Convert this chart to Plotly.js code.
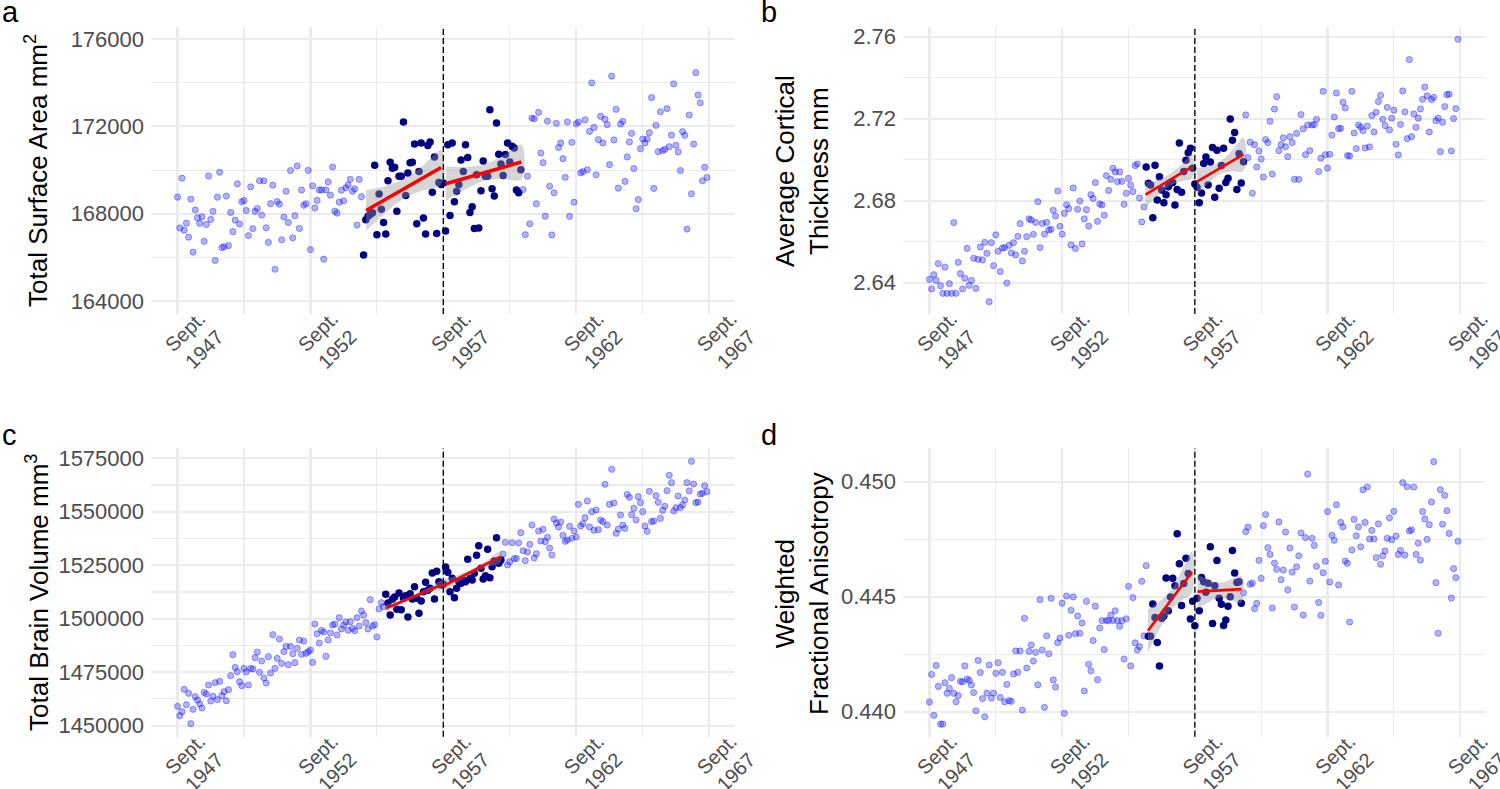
<!DOCTYPE html>
<html>
<head>
<meta charset="utf-8">
<script src="https://cdn.plot.ly/plotly-3.0.1.min.js"></script>
<style>html,body{margin:0;padding:0;background:#fff}#chart{width:1500px;height:789px}</style>
</head>
<body>
<div id="chart"></div>
<script>
// ---------- categories / ticks ----------
const startYear = 1947 + 8/12;   // first birth month: Sept. 1947
const cutoffYear = 1957 + 8/12;  // Sept. 1957
const xTickVals = [1947 + 8/12, 1952 + 8/12, 1957 + 8/12, 1962 + 8/12, 1967 + 8/12];
const xTickText = ['Sept.<br>1947', 'Sept.<br>1952', 'Sept.<br>1957', 'Sept.<br>1962', 'Sept.<br>1967'];
const xMinorVals = [1950 + 2/12, 1955 + 2/12, 1960 + 2/12, 1965 + 2/12];

// ---------- monthly values (Sept 1947 .. Aug 1967) ----------
const surfaceArea = [
168760,167350,169630,167250,167570,166930,168670,166240,168180,167820,
167560,167860,166740,167510,169730,167740,168110,165860,168760,169900,
166450,166490,168810,166540,168060,167180,167710,169370,167530,168550,
168610,168150,167000,169230,167320,168110,168240,169510,167940,169510,
167360,166690,168460,169310,165460,168560,168440,166810,167850,169030,
167600,169980,166900,167910,170190,167330,169090,168390,168460,169990,
166360,169280,168270,168610,169090,169090,165920,169090,169460,168850,
170140,168120,168030,168530,169080,168590,169190,169320,169580,169030,
169140,167480,169570,168780,
166110,167730,167880,167970,168050,170220,167040,168900,168210,167600,
167070,169510,170360,170080,170130,168110,169720,169720,172200,168840,
169860,170330,170360,171190,167540,169930,171240,167800,167070,171130,
171290,168990,170600,167100,169430,169340,
169410,167210,171160,167920,171240,168550,169030,169340,170460,169930,
171160,170570,168060,168320,167330,169790,167350,169050,170420,169720,
169720,172760,169140,168810,172150,170720,170280,169750,170710,171240,
170370,171090,171010,169090,168960,170010,
169110,167040,169720,167540,172380,172350,168460,172640,170780,170340,
167890,172240,169260,167030,168960,172140,171030,171240,170520,169670,
172200,167880,171270,168530,172120,172200,169870,169930,172300,170010,
171770,173990,171950,169780,171390,172460,171240,172330,172080,170250,
174300,171380,172780,169170,172110,172230,169480,170600,171290,171680,
170070,168230,168650,170980,171420,171240,171420,171710,173320,169160,
172050,170840,172670,170890,170950,172810,171070,171600,173950,171130,
170830,169980,171760,171590,167300,172520,168910,171190,174460,173440,
173080,169510,170130,169660];

const corticalThickness = [
2.6416,2.6369,2.6439,2.6411,2.6493,2.6385,2.6348,2.6476,2.6348,2.6395,
2.6348,2.6693,2.6348,2.6499,2.6444,2.6369,2.6421,2.6567,2.6387,2.6411,
2.6519,2.6372,2.6514,2.6574,2.6511,2.6597,2.6543,2.6307,2.6595,2.6483,
2.6633,2.6553,2.6454,2.6569,2.6571,2.6398,2.6582,2.6545,2.6595,2.6535,
2.6626,2.6688,2.6506,2.6553,2.6624,2.6711,2.6706,2.6636,2.6694,2.6795,
2.6571,2.6689,2.6637,2.6694,2.6657,2.6660,2.6753,2.6725,2.6847,2.6675,
2.6637,2.6738,2.6780,2.6761,2.6584,2.6862,2.6567,2.6758,2.6798,2.6589,
2.6711,2.6756,2.6676,2.6829,2.6811,2.6888,2.6699,2.6784,2.6779,2.6729,
2.6922,2.6850,2.6904,2.6958,2.6940,2.6893,2.6940,2.6894,2.6782,2.6836,
2.6909,2.6876,2.6844,2.6971,2.6979,2.6813,2.6696,2.6769,
2.6964,2.6885,2.6876,2.6717,2.6972,2.6803,2.6917,2.6852,2.6790,2.6829,
2.6868,2.6885,2.6889,2.6779,2.6854,2.7081,2.6841,2.6942,2.6997,2.7034,
2.7055,2.6958,
2.6881,2.6865,2.6790,2.6837,2.6981,2.7013,2.6876,2.6989,2.7059,2.6816,
2.7046,2.6860,2.6971,2.7055,2.6889,2.6909,2.7198,2.7094,2.7132,2.6854,
2.7029,2.6886,2.6990,
2.7218,2.7010,2.7085,2.6836,2.7073,2.6964,2.7042,2.7003,2.6915,2.7098,
2.7083,2.7187,2.6930,2.7247,2.7307,2.7044,2.7073,2.7106,2.7063,2.7015,
2.7112,2.7083,2.6904,2.7128,2.6904,2.7220,2.7150,2.7024,2.7169,2.7044,
2.7169,2.7171,2.7197,2.6942,2.7007,2.7333,2.7024,2.6959,2.7026,2.7120,
2.7208,2.7325,2.7151,2.7153,2.7280,2.7252,2.7020,2.7018,2.7333,2.7130,
2.7054,2.7169,2.7159,2.7141,2.7057,2.7164,2.7062,2.7215,2.7135,2.7231,
2.7283,2.7314,2.7197,2.7166,2.7255,2.7145,2.7202,2.7241,2.7075,2.7023,
2.7172,2.7335,2.7233,2.7102,2.7488,2.7112,2.7223,2.7158,2.7202,2.7247,
2.7294,2.7354,2.7311,2.7135,2.7293,2.7304,2.7190,2.7203,2.7039,2.7182,
2.7259,2.7317,2.7320,2.7042,2.7200,2.7249,2.7587];

const brainVolume = [
1459040,1454680,1456550,1466990,1459820,1465120,1450940,1457640,1463560,1462000,
1460130,1458260,1465590,1464810,1469020,1461530,1463720,1470110,1462160,1470730,
1464030,1465900,1461690,1466830,1473380,1483200,1477280,1475250,1470570,1468700,
1476810,1475090,1469020,1476810,1476500,1481800,1484450,1474940,1480240,1472290,
1469950,1482260,1474630,1492550,1476810,1481480,1490520,1479150,1484600,1487100,
1478520,1487100,1483670,1479460,1486160,1490060,1483350,1489590,1483820,1484600,
1485380,1479610,1497540,1493020,1488650,1494580,1493800,1482420,1490060,1493330,
1497070,1497540,1492390,1500500,1495200,1497070,1498470,1494580,1498630,1495510,
1494420,1500500,1496600,1503620,1501750,1498160,1495200,1508920,1496600,1497230,
1491460,1504550,1507510,1505640,
1511410,1507360,1501750,1509070,1510160,1504400,1512030,1504240,1509540,1510790,
1500810,1511720,1509230,1514990,1509540,1502530,1508290,1512660,1517020,1513280,
1514210,1521380,1509230,1522160,1517330,1515770,
1516090,1524190,1521700,1512660,1518890,1509850,1514210,1517330,1516550,1518110,
1517330,1527770,1518890,1518110,1521230,1529650,1534170,1523570,1518580,1520140,
1532450,1519200,1524350,1527000,1537900,1525900,1527460,
1530270,1535720,1525120,1526680,1535570,1528090,1528240,1535410,1540240,1531830,
1527150,1531200,1534790,1543830,1528400,1530420,1541020,1536350,1541800,1536040,
1538060,1533070,1529800,1546630,1544760,1542890,1545230,1539000,1536190,1536810,
1543200,1537590,1541020,1538220,1553490,1543360,1544450,1547260,1555050,1542890,
1550060,1541330,1550840,1541650,1546170,1545390,1562840,1543830,1553490,1569860,
1554120,1539930,1541960,1548500,1543830,1542270,1558170,1556760,1548660,1551620,
1546170,1557080,1554270,1550060,1543360,1540870,1559570,1545390,1545700,1557540,
1554430,1546950,1550690,1552560,1559880,1567050,1563620,1550370,1551930,1557390,
1551930,1553180,1555520,1563620,1559730,1573600,1563000,1554270,1554580,1558320,
1558640,1562220,1559410];

const fractionalAnisotropy = [
0.44042,0.44162,0.43984,0.44201,0.44110,0.43946,0.43946,0.44126,0.44080,0.44101,
0.44148,0.44080,0.44043,0.44070,0.44132,0.44130,0.44199,0.44142,0.44136,0.44116,
0.44083,0.44004,0.44223,0.44170,0.44057,0.43978,0.44081,0.44203,0.44059,0.44081,
0.44167,0.44213,0.44062,0.44171,0.44043,0.44119,0.44048,0.44045,0.44164,0.44264,
0.44171,0.44264,0.44007,0.44406,0.44190,0.44262,0.44290,0.44220,0.44258,0.44117,
0.44487,0.44268,0.44019,0.44330,0.44252,0.44493,0.44138,0.44107,0.44300,0.44320,
0.44472,0.43993,0.44503,0.44332,0.44441,0.44499,0.44339,0.44416,0.44341,0.44386,
0.44090,0.44480,0.44206,0.44178,0.44309,0.44459,0.44139,0.44364,0.44396,0.44270,
0.44396,0.44396,0.44420,0.44397,0.44439,0.44396,0.44372,0.44396,0.44229,0.44404,
0.44545,0.44199,0.44496,0.44299,0.44268,0.44283,0.44567,0.44330,0.44635,
0.44328,0.44328,0.44468,0.44410,0.44301,0.44199,0.44406,0.44416,0.44581,0.44439,
0.44499,0.44580,0.44548,0.44774,0.44643,0.44462,0.44557,0.44667,0.44601,0.44403,
0.44480,
0.44374,0.44493,0.44439,0.44583,0.44565,0.44519,0.44558,0.44717,0.44384,0.44548,
0.44657,0.44493,0.44467,0.44375,0.44399,0.44459,0.44500,0.44701,0.44603,0.44562,
0.44565,0.44471,
0.44517,0.44783,0.44803,0.44554,0.44559,0.44448,0.44471,0.44658,0.44580,0.44809,
0.44857,0.44713,0.44684,0.44451,0.44646,0.44619,0.44825,0.44574,0.44616,0.44781,
0.44530,0.44712,0.44607,0.44455,0.44630,0.44678,0.44777,0.44420,0.44757,0.45033,
0.44568,0.44754,0.44723,0.44632,0.44475,0.44419,0.44604,0.44654,0.44870,0.44564,
0.44767,0.44745,0.44900,0.44551,0.44823,0.44804,0.44655,0.44645,0.44390,0.44703,
0.44836,0.44765,0.44804,0.44717,0.44965,0.44823,0.44977,0.44751,0.44788,0.44751,
0.44670,0.44817,0.44641,0.44678,0.44699,0.44754,0.44843,0.44748,0.44871,0.44764,
0.44684,0.44701,0.44996,0.44681,0.44978,0.44786,0.44791,0.44977,0.44684,0.44733,
0.44659,0.44870,0.44838,0.44749,0.44813,0.44912,0.45087,0.44561,0.44341,0.44965,
0.44815,0.44941,0.44874,0.44775,0.44494,0.44622,0.44583,0.44741];

// bandwidth windows (month indices, inclusive) around the Sept 1957 cutoff
const windowA = [84, 155];
const windowB = [98, 142];
const windowC = [94, 146];
const windowD = [99, 141];

// ---------- local linear fits with 95% CI ----------
const fitAleftX  = [1954.76, 1955.47, 1956.17, 1956.88, 1957.58];
const fitAleftY  = [168150, 168643, 169135, 169628, 170120];
const fitAleftLo = [167220, 168020, 168690, 169070, 169340];
const fitAleftHi = [169080, 169260, 169590, 170190, 170900];
const fitArightX  = [1957.76, 1958.47, 1959.18, 1959.89, 1960.60];
const fitArightY  = [169370, 169620, 169870, 170120, 170370];
const fitArightLo = [168580, 169100, 169490, 169600, 169580];
const fitArightHi = [170160, 170140, 170250, 170640, 171160];

const fitBleftX  = [1955.81, 1956.25, 1956.69, 1957.12, 1957.56];
const fitBleftY  = [2.6829, 2.6863, 2.6898, 2.6932, 2.6966];
const fitBleftLo = [2.6764, 2.6825, 2.6868, 2.6894, 2.6909];
const fitBleftHi = [2.6894, 2.6901, 2.6928, 2.6970, 2.7023];
const fitBrightX  = [1957.75, 1958.19, 1958.62, 1959.06, 1959.50];
const fitBrightY  = [2.6893, 2.6926, 2.6960, 2.6993, 2.7026];
const fitBrightLo = [2.6828, 2.6886, 2.6930, 2.6943, 2.6945];
const fitBrightHi = [2.6958, 2.6966, 2.6990, 2.7043, 2.7107];

const fitCleftX  = [1955.50, 1956.04, 1956.57, 1957.11, 1957.65];
const fitCleftY  = [1504860, 1507670, 1510470, 1513280, 1516090];
const fitCleftLo = [1503300, 1506620, 1509690, 1512130, 1514220];
const fitCleftHi = [1506420, 1508720, 1511250, 1514430, 1517960];
const fitCrightX  = [1957.67, 1958.21, 1958.75, 1959.28, 1959.82];
const fitCrightY  = [1515310, 1518740, 1522170, 1525590, 1529020];
const fitCrightLo = [1512190, 1516990, 1521080, 1523940, 1526530];
const fitCrightHi = [1518430, 1520490, 1523260, 1527240, 1531510];

const fitDleftX  = [1955.90, 1956.31, 1956.73, 1957.14, 1957.56];
const fitDleftY  = [0.44352, 0.44416, 0.44480, 0.44543, 0.44607];
const fitDleftLo = [0.44258, 0.44354, 0.44437, 0.44481, 0.44517];
const fitDleftHi = [0.44446, 0.44478, 0.44523, 0.44605, 0.44697];
const fitDrightX  = [1957.77, 1958.18, 1958.60, 1959.01, 1959.42];
const fitDrightY  = [0.44522, 0.44525, 0.44528, 0.44530, 0.44533];
const fitDrightLo = [0.44447, 0.44475, 0.44496, 0.44485, 0.44475];
const fitDrightHi = [0.44597, 0.44575, 0.44560, 0.44575, 0.44591];

// ---------- axis tick values ----------
const yTicksA = [164000, 168000, 172000, 176000], yMinorA = [166000, 170000, 174000];
const yTicksB = [2.64, 2.68, 2.72, 2.76],         yMinorB = [2.66, 2.70, 2.74];
const yTicksC = [1450000, 1475000, 1500000, 1525000, 1550000, 1575000];
const yMinorC = [1462500, 1487500, 1512500, 1537500, 1562500];
const yTicksD = [0.440, 0.445, 0.450],            yMinorD = [0.4425, 0.4475];

// ---------- build traces ----------
const FONT = 'Liberation Sans, Arial, Helvetica, sans-serif';
const traces = [];

function addPanel(values, win, fits, ax, lw) {
  const xa = 'x' + ax, ya = 'y' + ax;
  const lx = [], ly = [], dx = [], dy = [];
  values.forEach((v, i) => {
    const x = startYear + i / 12;
    if (i >= win[0] && i <= win[1]) { dx.push(x); dy.push(v); }
    else { lx.push(x); ly.push(v); }
  });
  traces.push({type:'scatter', mode:'markers', x:lx, y:ly, xaxis:xa, yaxis:ya, hoverinfo:'skip',
    marker:{size:6.2, color:'rgba(0,0,255,0.3)', line:{color:'rgba(0,0,255,0.35)', width:1}}});
  traces.push({type:'scatter', mode:'markers', x:dx, y:dy, xaxis:xa, yaxis:ya, hoverinfo:'skip',
    marker:{size:7.5, color:'#000080', line:{width:0}}});
  fits.forEach(f => {
    traces.push({type:'scatter', mode:'lines', xaxis:xa, yaxis:ya, hoverinfo:'skip',
      x: f.x.concat(f.x.slice().reverse()), y: f.hi.concat(f.lo.slice().reverse()),
      fill:'toself', fillcolor:'rgba(153,153,153,0.4)', line:{width:0, shape:'spline', smoothing:1}});
  });
  fits.forEach(f => {
    traces.push({type:'scatter', mode:'lines', x:f.x, y:f.y, xaxis:xa, yaxis:ya, hoverinfo:'skip',
      line:{color:'#FF0000', width:lw}});
  });
}

addPanel(surfaceArea, windowA, [
  {x:fitAleftX, y:fitAleftY, lo:fitAleftLo, hi:fitAleftHi},
  {x:fitArightX, y:fitArightY, lo:fitArightLo, hi:fitArightHi}], '', 3.6);
addPanel(corticalThickness, windowB, [
  {x:fitBleftX, y:fitBleftY, lo:fitBleftLo, hi:fitBleftHi},
  {x:fitBrightX, y:fitBrightY, lo:fitBrightLo, hi:fitBrightHi}], '2', 2.6);
addPanel(brainVolume, windowC, [
  {x:fitCleftX, y:fitCleftY, lo:fitCleftLo, hi:fitCleftHi},
  {x:fitCrightX, y:fitCrightY, lo:fitCrightLo, hi:fitCrightHi}], '3', 2.6);
addPanel(fractionalAnisotropy, windowD, [
  {x:fitDleftX, y:fitDleftY, lo:fitDleftLo, hi:fitDleftHi},
  {x:fitDrightX, y:fitDrightY, lo:fitDrightLo, hi:fitDrightHi}], '4', 2.6);

// ---------- axes ----------
const GRID = '#EBEBEB';
function xAxis(domain, anchor) {
  return {domain, anchor, range:[1946.67, 1968.6], tickmode:'array', tickvals:xTickVals, ticktext:xTickText,
    tickangle:-45, ticks:'', showline:false, zeroline:false, showgrid:true, gridcolor:GRID, gridwidth:2.2,
    tickfont:{family:FONT, size:20, color:'#4D4D4D'}, ticklabelshift:22, ticklabelstandoff:-12,
    ticklabeloverflow:'allow',
    minor:{tickmode:'array', tickvals:xMinorVals, showgrid:true, gridcolor:GRID, gridwidth:1.1, ticks:''},
    fixedrange:true};
}
function yAxis(domain, anchor, range, vals, minorVals, fmt) {
  return {domain, anchor, range, tickmode:'array', tickvals:vals, tickformat:fmt,
    ticks:'', showline:false, zeroline:false, showgrid:true, gridcolor:GRID, gridwidth:2.2,
    tickfont:{family:FONT, size:22, color:'#4D4D4D'}, ticklabelstandoff:6,
    minor:{tickmode:'array', tickvals:minorVals, showgrid:true, gridcolor:GRID, gridwidth:1.1, ticks:''},
    fixedrange:true};
}
const topDom = [0.6020, 0.9658], botDom = [0.0663, 0.4318];
const leftDom = [0.1007, 0.4893], rightDom = [0.602, 0.990];

function vline(xref, yref) {
  return {type:'line', xref, yref, x0:cutoffYear, x1:cutoffYear, y0:0, y1:1,
    line:{color:'#000000', width:1.3, dash:'6px,3px'}, layer:'above'};
}

const letter = (t, x, y) => ({text:t, xref:'paper', yref:'paper', x, y, xanchor:'left', yanchor:'middle',
  showarrow:false, font:{family:FONT, size:29, color:'#000'}});
const ytitle = (t, x, y) => ({text:t, xref:'paper', yref:'paper', x, y, xanchor:'center', yanchor:'middle',
  textangle:-90, showarrow:false, font:{family:FONT, size:26, color:'#000'}});

const layout = {
  width:1500, height:789, margin:{l:0, r:0, t:0, b:0}, paper_bgcolor:'#fff', plot_bgcolor:'#fff',
  showlegend:false, font:{family:FONT},
  xaxis:  xAxis(leftDom, 'y'),  yaxis:  yAxis(topDom, 'x',  [163410, 176550], yTicksA, yMinorA, 'd'),
  xaxis2: xAxis(rightDom, 'y2'), yaxis2: yAxis(topDom, 'x2', [2.6247, 2.7647], yTicksB, yMinorB, '.2f'),
  xaxis3: xAxis(leftDom, 'y3'), yaxis3: yAxis(botDom, 'x3', [1444857, 1579675], yTicksC, yMinorC, 'd'),
  xaxis4: xAxis(rightDom, 'y4'), yaxis4: yAxis(botDom, 'x4', [0.438913, 0.451452], yTicksD, yMinorD, '.3f'),
  shapes:[vline('x', 'y domain'), vline('x2', 'y2 domain'), vline('x3', 'y3 domain'), vline('x4', 'y4 domain')],
  annotations:[
    letter('a', 0.0, 1 - 12/789), letter('b', 0.506, 1 - 12/789),
    letter('c', 0.0, 1 - 435/789), letter('d', 0.506, 1 - 435/789),
    ytitle('Total Surface Area mm<sup>2</sup>', 37/1500, 1 - 171/789),
    ytitle('Average Cortical<br>Thickness mm', 802/1500, 1 - 171/789),
    ytitle('Total Brain Volume mm<sup>3</sup>', 37/1500, 1 - 593/789),
    ytitle('Weighted<br>Fractional Anisotropy', 802/1500, 1 - 593/789)
  ]
};

Plotly.newPlot('chart', traces, layout, {displayModeBar:false, staticPlot:true});
</script>
</body>
</html>
